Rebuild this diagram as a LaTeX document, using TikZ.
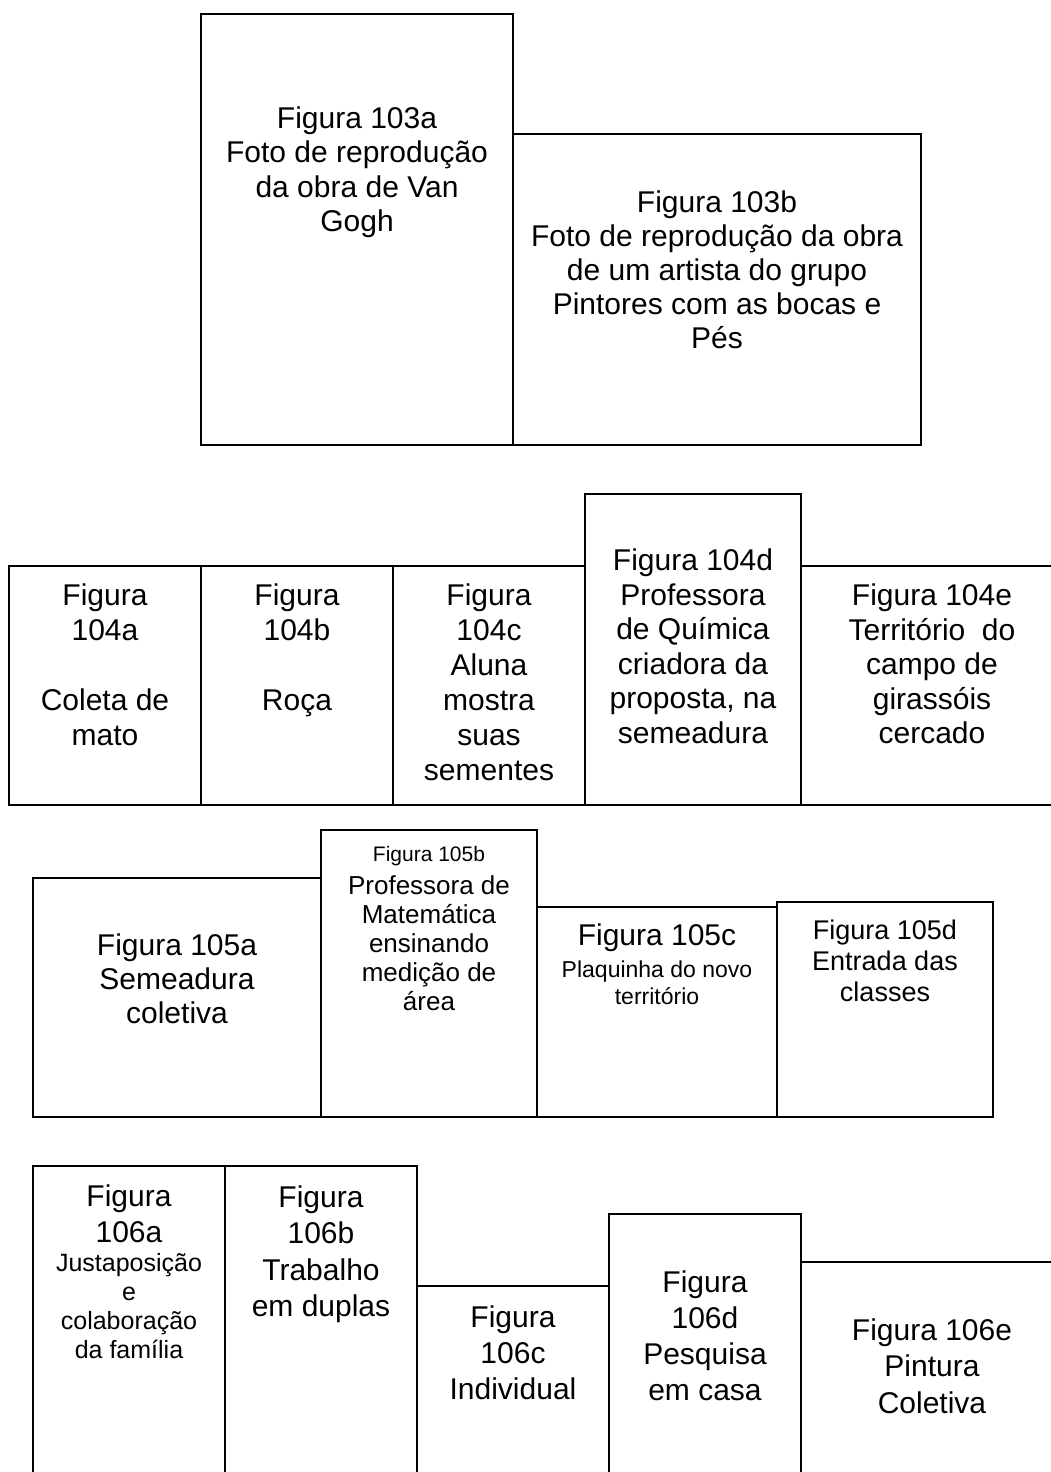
\documentclass[tikz,border=0pt]{standalone}
\usepackage{fontspec}
\setmainfont{Liberation Sans}
\tikzset{
  box/.style={draw=black,line width=1.8pt,inner sep=0pt,outer sep=0pt},
  txt/.style={anchor=north,inner sep=0pt,align=center,text=black}
}
% box: name, x1, y1, x2, y2 (pixels, y downwards)
\newcommand\figbox[5]{\node[box,minimum width={(#4-#2)*1pt},minimum height={(#5-#3)*1pt}] (#1) at ({(#2+#4)/2},{(#3+#5)/2}) {};}
% text block: name, x centre, centre of first line, font size, line skip, text
\newcommand\figtext[6]{\node[txt,font=\fontsize{#4}{#5}\selectfont] (#1) at (#2,{#3-0.47*#4}) {\rule{0pt}{0.8em}#6};}
\begin{document}
\begin{tikzpicture}[x=1pt,y=-1pt]
\useasboundingbox (0,0) rectangle (1051,1472);
\clip (0,0) rectangle (1051,1472);
\fill[white] (0,0) rectangle (1051,1472);
% row 103
\figbox{b103a}{201}{14}{513}{445}
\figbox{b103b}{513}{134}{921}{445}
\figtext{t103a}{357}{118}{30}{34.5}{Figura 103a\\Foto de reprodução\\da obra de Van\\Gogh}
\figtext{t103b}{717}{202}{30}{34}{Figura 103b\\Foto de reprodução da obra\\de um artista do grupo\\Pintores com as bocas e\\Pés}
% row 104
\figbox{b104a}{9}{566}{201}{805}
\figbox{b104b}{201}{566}{393}{805}
\figbox{b104c}{393}{566}{585}{805}
\figbox{b104d}{585}{494}{801}{805}
\figbox{b104e}{801}{566}{1070}{805}
\figtext{t104a}{105}{595.5}{30}{35}{Figura\\104a\\\mbox{}\\Coleta de\\mato}
\figtext{t104b}{297}{595.5}{30}{35}{Figura\\104b\\\mbox{}\\Roça}
\figtext{t104c}{489}{595.5}{30}{35}{Figura\\104c\\Aluna\\mostra\\suas\\sementes}
\figtext{t104d}{693}{560.5}{30}{34.5}{Figura 104d\\Professora\\de Química\\criadora da\\proposta, na\\semeadura}
\figtext{t104e}{932}{595.5}{30}{34.5}{Figura 104e\\Território~ do\\campo de\\girassóis\\cercado}
% row 105
\figbox{b105a}{33}{878}{321}{1117}
\figbox{b105b}{321}{830}{537}{1117}
\figbox{b105c}{537}{907}{777}{1117}
\figbox{b105d}{777}{902}{993}{1117}
\figtext{t105a}{177}{945}{30}{34}{Figura 105a\\Semeadura\\coletiva}
\figtext{t105bh}{429}{854}{21}{24}{Figura 105b}
\figtext{t105b}{429}{886}{26}{29}{Professora de\\Matemática\\ensinando\\medição de\\área}
\figtext{t105ch}{657}{935}{30}{34}{Figura 105c}
\figtext{t105c}{657}{970}{23}{27}{Plaquinha do novo\\território}
\figtext{t105d}{885}{930}{27}{31}{Figura 105d\\Entrada das\\classes}
% row 106
\figbox{b106a}{33}{1166}{225}{1500}
\figbox{b106b}{225}{1166}{417}{1500}
\figbox{b106c}{417}{1286}{609}{1500}
\figbox{b106d}{609}{1214}{801}{1500}
\figbox{b106e}{801}{1262}{1070}{1500}
\figtext{t106ah}{129}{1196}{30}{36}{Figura\\106a}
\figtext{t106a}{129}{1263}{25}{29}{Justaposição\\e\\colaboração\\da família}
\figtext{t106b}{321}{1197}{30}{36.5}{Figura\\106b\\Trabalho\\em duplas}
\figtext{t106c}{513}{1317}{30}{36}{Figura\\106c\\Individual}
\figtext{t106d}{705}{1282}{30}{36.2}{Figura\\106d\\Pesquisa\\em casa}
\figtext{t106e}{932}{1330}{30}{36.7}{Figura 106e\\Pintura\\Coletiva}
\end{tikzpicture}
\end{document}
